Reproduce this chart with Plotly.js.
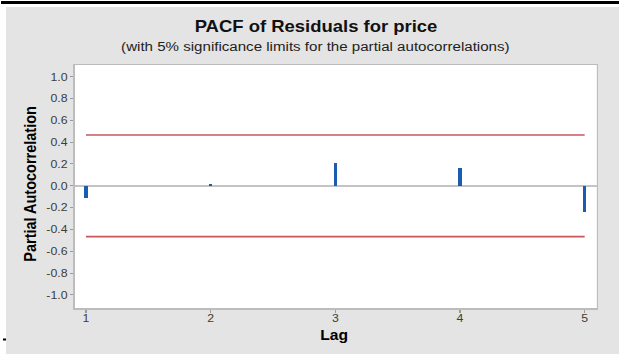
<!DOCTYPE html>
<html>
<head>
<meta charset="utf-8">
<script src="https://cdn.plot.ly/plotly-3.0.1.min.js"></script>
<style>
  html, body { margin: 0; padding: 0; background: #ffffff; overflow: hidden; }
  #wrap { width: 619px; height: 354px; overflow: hidden; }
  #chart { width: 553px; height: 354px; transform: scaleX(1.1194); transform-origin: 0 0; }
</style>
</head>
<body>
<div id="wrap"><div id="chart"></div></div>
<script>
// Partial autocorrelations of the residuals, by lag
const lags = [1, 2, 3, 4, 5];
const pacf = [-0.116, 0.015, 0.205, 0.165, -0.241];
// 5% significance limit (+/-)
const sigLimit = 0.466;

const yTickVals = [1.0, 0.8, 0.6, 0.4, 0.2, 0.0, -0.2, -0.4, -0.6, -0.8, -1.0];
const yTickText = ['1.0', '0.8', '0.6', '0.4', '0.2', '0.0', '-0.2', '-0.4', '-0.6', '-0.8', '-1.0'];
const xTickVals = [1, 2, 3, 4, 5];
const xTickText = ['1', '2', '3', '4', '5'];

// Geometry of the drawing surface (the div is stretched horizontally by S)
const S = 619 / 553;
const W = 553, H = 354;
const ML = 67, MR = 20, MT = 65, MB = 46;
const PW = W - ML - MR, PH = H - MT - MB;
const fx = px => (px / S - ML) / PW;      // page x -> paper x
const fy = py => (H - MB - py) / PH;      // page y -> paper y

const font = 'Liberation Sans, Arial, sans-serif';

const bars = {
  type: 'bar',
  x: lags,
  y: pacf,
  width: 0.029,
  marker: { color: '#1a5cb0', line: { width: 0 } },
  hoverinfo: 'x+y',
  showlegend: false
};

const first = lags[0], last = lags[lags.length - 1];
const upper = {
  type: 'scatter', mode: 'lines',
  x: [first, last], y: [sigLimit, sigLimit],
  line: { color: '#c55a58', width: 1.6 },
  hoverinfo: 'skip', showlegend: false
};
const lower = {
  type: 'scatter', mode: 'lines',
  x: [first, last], y: [-sigLimit, -sigLimit],
  line: { color: '#c55a58', width: 1.6 },
  hoverinfo: 'skip', showlegend: false
};

const axisCommon = {
  showgrid: false,
  showline: true,
  mirror: true,
  linecolor: '#bcbcbc',
  linewidth: 1.5,
  ticks: 'outside',
  ticklen: 3,
  tickwidth: 1,
  tickcolor: '#9a9a9a',
  tickfont: { family: font, size: 11, color: '#3c3c3c' },
  fixedrange: true
};

const layout = {
  width: W,
  height: H,
  margin: { l: ML, r: MR, t: MT, b: MB, pad: 0 },
  paper_bgcolor: '#e4e4e4',
  plot_bgcolor: '#ffffff',
  bargap: 0,
  title: {
    text: 'PACF of Residuals for price',
    font: { family: font, size: 16.5, color: '#111111', weight: 'bold' },
    xref: 'container', yref: 'container',
    x: 316 / 619, xanchor: 'center',
    y: 1 - 26 / 354, yanchor: 'middle'
  },
  xaxis: Object.assign({}, axisCommon, {
    range: [0.912, 5.096],
    tickmode: 'array', tickvals: xTickVals, ticktext: xTickText,
    ticklabelstandoff: -4,
    zeroline: false
  }),
  yaxis: Object.assign({}, axisCommon, {
    range: [-1.12, 1.107],
    tickmode: 'array', tickvals: yTickVals, ticktext: yTickText,
    zeroline: true, zerolinecolor: '#c4c4c4', zerolinewidth: 2
  }),
  annotations: [
    {
      text: '(with 5% significance limits for the partial autocorrelations)',
      xref: 'paper', yref: 'paper',
      x: fx(315), y: fy(46.5), xanchor: 'center', yanchor: 'middle',
      showarrow: false,
      font: { family: font, size: 13.5, color: '#222222' }
    },
    {
      text: 'Partial Autocorrelation',
      xref: 'paper', yref: 'paper',
      x: fx(30), y: fy(184), xanchor: 'center', yanchor: 'middle',
      textangle: -90, showarrow: false,
      font: { family: font, size: 14.5, color: '#000000', weight: 'bold' }
    },
    {
      text: 'Lag',
      xref: 'paper', yref: 'paper',
      x: fx(334), y: fy(335), xanchor: 'center', yanchor: 'middle',
      showarrow: false,
      font: { family: font, size: 14, color: '#000000', weight: 'bold' }
    }
  ],
  shapes: [
    // white margin strips around the grey panel
    { type: 'rect', xref: 'paper', yref: 'paper', x0: fx(-2), x1: fx(625), y0: fy(7), y1: fy(-2),
      fillcolor: '#ffffff', line: { width: 0 }, layer: 'above' },
    { type: 'rect', xref: 'paper', yref: 'paper', x0: fx(-2), x1: fx(6), y0: fy(360), y1: fy(-2),
      fillcolor: '#ffffff', line: { width: 0 }, layer: 'above' },
    // black rule along the top
    { type: 'rect', xref: 'paper', yref: 'paper', x0: fx(1), x1: fx(625), y0: fy(4), y1: fy(1),
      fillcolor: '#000000', line: { width: 0 }, layer: 'above' },
    // small mark at the lower left
    { type: 'rect', xref: 'paper', yref: 'paper', x0: fx(3), x1: fx(6), y0: fy(340.5), y1: fy(338.5),
      fillcolor: '#000000', line: { width: 0 }, layer: 'above' }
  ]
};

Plotly.newPlot('chart', [upper, lower, bars], layout, { displayModeBar: false, staticPlot: true });
</script>
</body>
</html>
